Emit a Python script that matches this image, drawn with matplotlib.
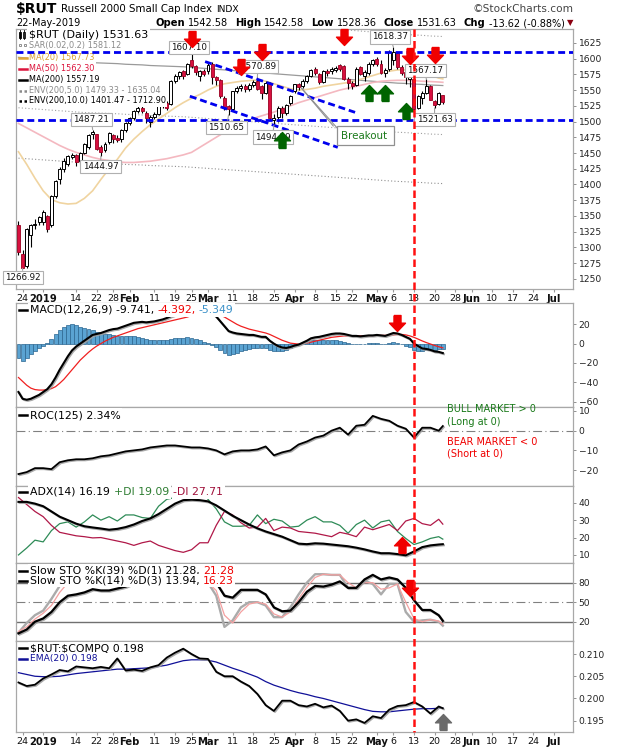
import numpy as np
import pandas as pd
import matplotlib
matplotlib.use("Agg")
from matplotlib import pyplot as plt
from matplotlib.lines import Line2D
from matplotlib.patches import Rectangle
from matplotlib.path import Path
from matplotlib.transforms import Affine2D
from matplotlib.ticker import FormatStrFormatter
import matplotlib.patheffects as pe

W, H = 620, 750

# trading calendar (x axis runs on trading days)
holidays = ["2018-12-25", "2019-01-01", "2019-01-21", "2019-02-18",
            "2019-04-19", "2019-05-27", "2019-07-04"]
cal = pd.bdate_range("2018-12-21", "2019-07-10")
cal = cal[~cal.isin(pd.to_datetime(holidays))]
day_index = {d.strftime("%Y-%m-%d"): k for k, d in enumerate(cal)}

def pos(day, shift=0.0):
    return day_index[day] + shift

# ---- daily OHLC, 21-Dec-2018 .. 22-May-2019 ----
opens = [1335, 1290, 1270, 1320, 1336, 1340, 1340, 1350, 1335, 1381, 1408, 1425, 1433, 1444,
         1447, 1437, 1450, 1460, 1480, 1480, 1459, 1455, 1468, 1478, 1474, 1472, 1487, 1498,
         1505, 1517, 1522, 1514, 1500, 1508, 1512, 1526, 1530, 1528, 1565, 1573, 1580, 1575,
         1598, 1588, 1572, 1580, 1580, 1592, 1570, 1566, 1538, 1524, 1520, 1548, 1553, 1557,
         1552, 1558, 1564, 1556, 1546, 1561, 1503, 1508, 1522, 1514, 1530, 1548, 1559, 1557,
         1565, 1572, 1583, 1575, 1563, 1581, 1580, 1582, 1590, 1588, 1568, 1562, 1558, 1586,
         1572, 1577, 1592, 1600, 1592, 1577, 1583, 1598, 1609, 1587, 1578, 1567, 1567, 1522,
         1538, 1545, 1556, 1532, 1528, 1542.58]
highs = [1342, 1296, 1331, 1337, 1345, 1350, 1360, 1352, 1383, 1407, 1428, 1442, 1447, 1450,
         1448, 1452, 1466, 1480, 1487.21, 1481, 1462, 1467, 1484, 1480, 1478, 1488, 1500, 1508,
         1518, 1524, 1526, 1516, 1510, 1515, 1527, 1533, 1532, 1566, 1575, 1580, 1582, 1593,
         1607.10, 1590, 1582, 1584, 1593, 1595, 1573, 1567, 1540, 1526, 1549, 1556, 1560, 1559,
         1561, 1566, 1570.89, 1558, 1564, 1563, 1512, 1524, 1525, 1528, 1542, 1560, 1561, 1567,
         1574, 1584, 1586, 1577, 1582, 1584, 1587, 1588, 1592, 1590, 1570, 1564, 1586, 1588,
         1582, 1594, 1599, 1603, 1597, 1585, 1613, 1618.37, 1611, 1590, 1580, 1575, 1568, 1542,
         1548, 1567.17, 1558, 1534, 1547, 1542.58]
lows = [1288, 1266.92, 1268, 1300, 1330, 1335, 1335, 1325, 1333, 1378, 1400, 1420, 1430, 1440,
        1430, 1433, 1448, 1456, 1472, 1455, 1444.97, 1452, 1465, 1466, 1468, 1468, 1484, 1494,
        1503, 1514, 1514, 1498, 1492, 1504, 1510, 1522, 1518, 1526, 1562, 1568, 1568, 1574,
        1585, 1574, 1565, 1572, 1575, 1560, 1558, 1538, 1518, 1510.65, 1518, 1545, 1549, 1547,
        1548, 1555, 1550, 1536, 1543, 1503, 1494.29, 1500, 1505, 1510, 1527, 1545, 1550, 1554,
        1562, 1570, 1574, 1560, 1561, 1573, 1576, 1578, 1580, 1566, 1552, 1552, 1556, 1574,
        1565, 1574, 1589, 1588, 1575, 1570, 1581, 1590, 1584, 1574, 1560, 1555, 1518, 1520,
        1528, 1543, 1534, 1521.63, 1527, 1528.36]
closes = [1292, 1268, 1329, 1335, 1338, 1348, 1356, 1330, 1381, 1405, 1425, 1438, 1446, 1447,
          1435, 1450, 1464, 1478, 1484, 1457, 1452, 1465, 1482, 1473, 1470, 1486, 1498, 1505,
          1517, 1522, 1517, 1505, 1508, 1512, 1526, 1530, 1522, 1565, 1573, 1578, 1572, 1592,
          1588, 1578, 1580, 1576, 1590, 1570, 1566, 1540, 1523, 1520, 1548, 1553, 1557, 1551,
          1558, 1563, 1552, 1546, 1562, 1505, 1506, 1521, 1513, 1527, 1540, 1559, 1555, 1565,
          1572, 1582, 1577, 1563, 1580, 1577, 1584, 1585, 1583, 1568, 1562, 1557, 1584, 1575,
          1578, 1592, 1597, 1592, 1577, 1582, 1610, 1611, 1587, 1577, 1570, 1572, 1520, 1540,
          1546, 1557, 1535, 1526, 1545, 1531.63]

# ---- MACD(12,26,9), daily ----
macd_line = [-50, -57, -58, -57, -55, -53, -50, -47, -42, -35,
             -27, -20, -13, -7, -3, 0, 3, 6, 9, 10,
             11, 12.5, 14, 15, 15.5, 17, 18.5, 20, 21.5, 22,
             22.5, 22, 22.5, 23, 24, 25, 26.5, 28.5, 30, 31.5,
             32.5, 34, 35, 35, 34.5, 33.5, 33, 31, 28, 23,
             18, 13, 11.5, 10.5, 10, 9.5, 9, 9, 8, 7,
             7, 3, 0, -2.5, -4, -4.5, -3.5, -2, -1, 1,
             3, 5.5, 6.5, 7, 8, 9, 10, 10.5, 10.5, 10,
             9, 8, 8, 7.5, 8, 8.5, 8.5, 9, 8.5, 8,
             9.5, 11, 10.5, 9, 7, 5, 0, -2.5, -5, -5.5,
             -6.5, -8, -8.5, -9.741]
macd_signal = [-35, -39, -43, -46, -47.5, -48, -48, -47.5, -46.5, -44.5,
               -41, -37, -32, -27, -22, -17, -13, -9, -5.5, -2.5,
               0, 2.5, 4.5, 6.5, 8, 9.5, 11, 12.5, 14, 15.5,
               16.5, 17.5, 18.5, 19.5, 20.5, 21.5, 22.5, 23.5, 24.5, 25.5,
               26.5, 27.5, 29, 30, 31, 31.5, 32, 32, 31, 29.5,
               27.5, 25, 22.5, 20, 18, 16.5, 15, 14, 13, 12,
               11, 9.5, 7.5, 5.5, 3.5, 2, 0.5, 0, -0.5, 0,
               0.5, 1.5, 2.5, 3.5, 4.5, 5.5, 6.5, 7, 7.5, 8,
               8, 8, 8, 8, 8, 8, 8, 8.5, 8.5, 8.5,
               8.5, 9, 9.5, 9.5, 9, 8, 6.5, 4.7, 2.8, 1.1,
               -0.4, -1.9, -3.2, -4.392]

# ---- indicator readings every second trading day (+ last day) ----
ma20 = [1452, 1432, 1410, 1390, 1376, 1371, 1369, 1370, 1378, 1390, 1408, 1425, 1440, 1458,
        1472, 1484, 1495, 1504, 1513, 1522, 1530, 1537, 1543, 1550, 1556, 1560, 1562, 1564,
        1565, 1566, 1564, 1560, 1556, 1552, 1550, 1551, 1553, 1556, 1558, 1560, 1562, 1565,
        1569, 1573, 1577, 1580, 1582, 1582, 1581, 1578, 1574, 1569, 1567.73]
ma50 = [1497, 1490, 1483, 1476, 1469, 1462, 1456, 1451, 1447, 1443, 1440, 1438, 1436, 1435,
        1435, 1436, 1437, 1439, 1441, 1444, 1447, 1451, 1459, 1467, 1475, 1483, 1490, 1497,
        1502, 1507, 1511, 1515, 1520, 1525, 1530, 1534, 1538, 1542, 1546, 1550, 1553, 1556,
        1559, 1562, 1564, 1565, 1565.5, 1565.5, 1565, 1564, 1563.5, 1562.8, 1562.30]
ma200 = [1602, 1601, 1600, 1599, 1598, 1597, 1596, 1595, 1594, 1593.5, 1593, 1592.5, 1592,
         1591, 1590.5, 1590, 1589, 1588.5, 1588, 1587.5, 1587, 1586, 1585, 1584, 1583, 1582,
         1581, 1580, 1579, 1578, 1577, 1576, 1575, 1574, 1573, 1572, 1571, 1570, 1569, 1568,
         1567, 1566, 1565, 1564, 1563, 1562, 1561, 1560.5, 1559.5, 1559, 1558, 1557.5, 1557.19]
roc125 = [-22, -21, -19, -19, -19.5, -16, -15, -14.5, -14.5, -14, -13, -12.5, -11.5, -10.5,
          -10, -9.5, -8.5, -8, -7.5, -7.5, -8, -8.5, -8.5, -9, -10, -12, -10.5, -10, -10,
          -9.5, -8, -12.5, -11, -10, -7, -5.5, -3.5, -2.5, 0, 1.5, -2, 2.5, 3, 7.5, 6, 5,
          2.5, 1, -3.5, 1.5, 1.5, 0, 2.34]
adx = [40.5, 40.5, 39.5, 38, 35, 32, 30, 28, 26.5, 25.8, 25.2, 24.5, 25, 26, 27.5, 29.5,
       31, 33.5, 36.5, 39.5, 41.5, 41.8, 41.5, 40.8, 38.5, 35.5, 32.5, 30, 27.5, 25.3, 23.5,
       22, 20.5, 18.5, 16.5, 16.2, 16.7, 16.5, 16, 15.5, 15, 14.2, 13.2, 12, 11, 11, 10.5,
       9.8, 12, 14.5, 15.5, 16, 16.19]
plus_di = [10, 14, 18.5, 17.5, 24, 28, 29, 26, 29, 33, 30, 32, 29.5, 33, 33, 31.5, 31, 38,
           42, 43, 46, 47, 46, 42, 36.5, 29, 26.5, 26.5, 27, 33, 28, 30.5, 29.5, 26, 26.5,
           30, 32, 29, 29, 27, 22.5, 27.5, 30, 25.5, 29, 30, 23.5, 19.5, 16, 17.5, 19.5,
           20.5, 19.09]
minus_di = [43, 39, 35, 32, 27, 23, 22, 21, 20.5, 19.8, 20, 19, 18, 17, 15.5, 17, 18, 15.5,
            14, 12.5, 11.5, 13, 17, 17, 27, 35, 33, 28.5, 25.5, 26, 31, 24, 26, 25.5, 23.5,
            23, 22.5, 21.5, 20.5, 23, 22, 20.5, 26, 24.5, 26, 27.5, 24, 29.5, 31, 28, 27,
            30.5, 27.71]
sto_k39 = [2, 8, 20, 25, 35, 50, 60, 62, 65, 70, 68, 68, 71, 74, 80, 84, 88, 90, 92, 94, 95,
           94, 91, 88, 80, 60, 57, 69, 69, 69, 62, 42, 36, 37, 50, 66, 75, 74, 77, 82, 72,
           72, 85, 92, 85, 88, 85, 72, 53, 38, 38, 30, 21.28]
sto_k14 = [3, 18, 30, 37, 55, 75, 85, 83, 88, 92, 85, 88, 90, 92, 93, 88, 85, 92, 95, 96, 95,
           90, 84, 80, 60, 12, 22, 42, 50, 50, 45, 27, 27, 42, 62, 80, 93, 93, 92, 92, 72,
           72, 83, 78, 62, 78, 78, 35, 20, 22, 23, 20, 13.94]
sto_d3 = [5, 12, 24, 33, 45, 65, 80, 84, 86, 89, 88, 87, 89, 91, 92, 90, 87, 89, 93, 95, 95,
          92, 86, 80, 68, 30, 18, 35, 47, 50, 47, 32, 27, 35, 55, 73, 88, 93, 92, 92, 80,
          72, 80, 80, 70, 72, 78, 50, 25, 20, 23, 21, 16.23]
rut_compq = [0.2036, 0.2028, 0.2031, 0.2045, 0.2054, 0.2064, 0.2061, 0.2072, 0.2070, 0.2068,
             0.2071, 0.2068, 0.2090, 0.2063, 0.2065, 0.2062, 0.2070, 0.2075, 0.2092, 0.2103,
             0.2112, 0.2100, 0.2090, 0.2089, 0.2060, 0.2050, 0.2050, 0.2038, 0.2028, 0.2010,
             0.1985, 0.1972, 0.1995, 0.1995, 0.1985, 0.1982, 0.1988, 0.1980, 0.1984, 0.1972,
             0.1950, 0.1953, 0.1945, 0.1960, 0.1956, 0.1975, 0.1983, 0.1985, 0.1992, 0.1982,
             0.1966, 0.1982, 0.1978]
ratio_ema20 = [0.2058, 0.2054, 0.2050, 0.2049, 0.2049, 0.2050, 0.2053, 0.2056, 0.2058, 0.2060,
               0.2062, 0.2064, 0.2066, 0.2066, 0.2067, 0.2068, 0.2069, 0.2072, 0.2075, 0.2080,
               0.2085, 0.2087, 0.2087, 0.2086, 0.2082, 0.2075, 0.2068, 0.2062, 0.2055, 0.2048,
               0.2038, 0.2030, 0.2024, 0.2018, 0.2013, 0.2009, 0.2004, 0.2000, 0.1995, 0.1990,
               0.1985, 0.1980, 0.1975, 0.1971, 0.1970, 0.1970, 0.1972, 0.1974, 0.1976, 0.1977,
               0.1977, 0.1978, 0.1978]

# x axis labels
tick_days = ["2018-12-24", "2019-01-02", "2019-01-14", "2019-01-22", "2019-01-28", "2019-02-01",
             "2019-02-11", "2019-02-19", "2019-02-25", "2019-03-01", "2019-03-11", "2019-03-18",
             "2019-03-25", "2019-04-01", "2019-04-08", "2019-04-15", "2019-04-22", "2019-04-30",
             "2019-05-06", "2019-05-13", "2019-05-20", "2019-05-28", "2019-06-03", "2019-06-10",
             "2019-06-17", "2019-06-24", "2019-07-01"]
tick_text = ["24", "2019", "14", "22", "28", "Feb", "11", "19", "25", "Mar", "11", "18", "25",
             "Apr", "8", "15", "22", "May", "6", "13", "20", "28", "Jun", "10", "17", "24", "Jul"]

# annotations drawn on the chart
res_lines = [1611, 1503]
channel_upper = [("2019-02-28", 0.3, 1595.2), ("2019-04-23", -0.3, 1514.6)]
channel_lower = [("2019-02-22", 0.6, 1540.2), ("2019-04-16", -0.5, 1459.0)]
red_down = [("2019-02-25", 1631), ("2019-03-13", 1587), ("2019-03-20", 1610),
            ("2019-04-17", 1634), ("2019-05-10", 1604), ("2019-05-20", 1605)]
green_up = [("2019-03-27", 1471), ("2019-04-26", 1545.5), ("2019-05-02", 1545.5), ("2019-05-09", 1516)]
price_notes = [("1266.92", "2018-12-24", 1266.92, 0.0, 1252.4),
               ("1487.21", "2019-01-18", 1487.21, -0.3, 1503.6),
               ("1444.97", "2019-01-23", 1444.97, -0.1, 1428.3),
               ("1607.10", "2019-02-25", 1607.10, -0.6, 1618.0),
               ("1570.89", "2019-03-19", 1570.89, 0.1, 1587.3),
               ("1510.65", "2019-03-08", 1510.65, -0.5, 1491.0),
               ("1494.29", "2019-03-25", 1494.29, -0.3, 1475.4),
               ("1618.37", "2019-05-06", 1618.37, -0.8, 1634.4),
               ("1567.17", "2019-05-16", 1567.17, -0.2, 1580.9),
               ("1521.63", "2019-05-20", 1521.63, 0.0, 1502.9)]
signal_day = "2019-05-13"

# ------------------------------------------------------------------
x = np.arange(len(closes))
xs = np.array(list(range(0, len(closes), 2)) + [len(closes) - 1])
o, hi, lo, c = map(np.array, (opens, highs, lows, closes))
hist = np.array(macd_line) - np.array(macd_signal)

fig = plt.figure(figsize=(W / 100, H / 100), dpi=100)
PX = Affine2D().scale(1, -1).translate(0, H)   # pixel coords, origin top-left

def panel(top, bottom):
    return fig.add_axes([16 / W, 1 - bottom / H, 557 / W, (bottom - top) / H])

ax_p = panel(29, 289)
ax_m = panel(303, 407)
ax_r = panel(407, 485.7)
ax_a = panel(485.7, 563.3)
ax_s = panel(563.3, 641)
ax_c = panel(641, 732.3)

def style(ax, ylim, yticks):
    ax.set_xlim(-0.6, 134.6)
    ax.set_ylim(*ylim)
    ax.yaxis.tick_right()
    ax.set_yticks(yticks)
    for s in ax.spines.values():
        s.set_color("#a8a8a8")
        s.set_linewidth(0.9)
    ax.tick_params(axis="y", length=2.5, width=0.7, color="#909090", labelsize=6.6,
                   pad=1.5, labelcolor="#222222")
    ax.tick_params(axis="x", length=0, labelbottom=False)

style(ax_p, (1234, 1647), np.arange(1250, 1626, 25))
style(ax_m, (-65.5, 42), [20, 0, -20, -40, -60])
style(ax_r, (-27.9, 12), [10, 0, -10, -20])
style(ax_a, (5.2, 49.8), [40, 30, 20, 10])
style(ax_s, (-9.7, 109.8), [80, 50, 20])
style(ax_c, (0.19239, 0.21293), [0.210, 0.205, 0.200, 0.195])
ax_c.yaxis.set_major_formatter(FormatStrFormatter("%.3f"))

for ax in (ax_p, ax_c):
    ax.set_xticks([pos(d) for d in tick_days])
    ax.set_xticklabels(tick_text)
    ax.tick_params(axis="x", labelbottom=True, length=2, color="#999999", labelsize=6.8,
                   pad=1.5, labelcolor="#111111")
    for lab in ax.get_xticklabels():
        if not lab.get_text().isdigit() or lab.get_text() == "2019":
            lab.set_fontweight("bold")
            lab.set_fontsize(7.2)

shadow = [pe.SimpleLineShadow(offset=(0.8, -0.8), shadow_color="#a0a0a0", alpha=0.9), pe.Normal()]

# ---- price panel ----
ax_p.plot(xs, ma200, color="#9a9a9a", lw=0.9, zorder=1)
ax_p.plot(xs, np.array(ma200) * 0.95, color="#a0a0a0", lw=0.8, ls=(0, (1, 2)), zorder=1)
ax_p.plot(xs, np.array(ma200) * 1.05, color="#a0a0a0", lw=0.8, ls=(0, (1, 2)), zorder=1)
ax_p.plot(xs, np.array(ma200) * 0.90, color="#909090", lw=0.8, ls=(0, (1, 2)), zorder=1)
ax_p.plot(xs, ma20, color="#f0d4a0", lw=1.2, zorder=1)
ax_p.plot(xs, ma50, color="#f4b8c0", lw=1.2, zorder=1)

up = c >= o
ax_p.vlines(x, lo, hi, color="black", lw=0.8, zorder=2)
bottom = np.minimum(o, c)
height = np.maximum(np.abs(c - o), 0.8)
ax_p.bar(x[up], height[up], bottom=bottom[up], width=0.72, color="white",
         edgecolor="black", lw=0.7, zorder=3)
ax_p.bar(x[~up], height[~up], bottom=bottom[~up], width=0.72, color="#d81040",
         edgecolor="#9a0020", lw=0.6, zorder=3)

for lvl in res_lines:
    ax_p.axhline(lvl, color="#0000ee", lw=2, ls=(0, (2.5, 1.4)), zorder=7)
for seg in (channel_upper, channel_lower):
    ax_p.plot([pos(d, s) for d, s, _ in seg], [v for _, _, v in seg], color="#0000ee",
              lw=2, ls=(0, (2.5, 1.4)), zorder=7)

# breakout callout
ax_p.plot([pos("2019-04-01", 1.7), pos("2019-04-15", -0.6)], [1553, 1493], color="#909090", lw=0.8, zorder=7)
ax_p.plot([pos("2019-04-01", 1.7), pos("2019-04-16", -0.4)], [1553, 1488], color="#909090", lw=0.8, zorder=7)
ax_p.add_patch(Rectangle((pos("2019-04-15", 0.3), 1462.8), 13.8, 29.9, facecolor="white",
                         edgecolor="#909090", lw=0.9, zorder=8))
ax_p.text(pos("2019-04-16", 0.2), 1477.5, "Breakout", color="#1a7a1a", fontsize=7.4,
          va="center", ha="left", zorder=9)

for txt, d, val, dx, yb in price_notes:
    ax_p.annotate(txt, xy=(pos(d), val), xytext=(pos(d, dx), yb), fontsize=6.3,
                  ha="center", va="center", color="#111111", zorder=8, annotation_clip=False,
                  bbox=dict(boxstyle="square,pad=0.25", fc="white", ec="#b0b0b0", lw=0.8),
                  arrowprops=dict(arrowstyle="-", color="#a0a0a0", lw=0.8, shrinkA=0, shrinkB=0))

arrow_dn = Path([(-0.22, 0.5), (0.22, 0.5), (0.22, 0.02), (0.5, 0.02), (0, -0.5),
                 (-0.5, 0.02), (-0.22, 0.02), (-0.22, 0.5)])
arrow_up = Path([(xx, -yy) for xx, yy in arrow_dn.vertices])

def mark(ax, items, path, color):
    ax.plot([pos(d) for d, _ in items], [v for _, v in items], ls="none", marker=path,
            ms=11.5, color=color, mec=color, zorder=10, clip_on=False)

mark(ax_p, red_down, arrow_dn, "#f00000")
mark(ax_p, green_up, arrow_up, "#006400")

# ---- MACD ----
ax_m.bar(x, hist, width=0.95, color="#5aa3d2", edgecolor="#2a6590", lw=0.5, zorder=1)
ax_m.plot(x, macd_signal, color="#f02020", lw=0.9, zorder=2)
ax_m.plot(x, macd_line, color="black", lw=1.5, zorder=3, path_effects=shadow)
mark(ax_m, [("2019-05-07", 21)], arrow_dn, "#f00000")

# ---- ROC ----
ax_r.axhline(0, color="#808080", lw=0.8, ls=(0, (8, 3, 1, 3)), zorder=1)
ax_r.plot(xs, roc125, color="black", lw=1.3, zorder=3, path_effects=shadow)

# ---- ADX ----
ax_a.plot(xs, plus_di, color="#2e8b57", lw=0.9, zorder=2)
ax_a.plot(xs, minus_di, color="#b01848", lw=0.9, zorder=2)
ax_a.plot(xs, adx, color="black", lw=1.5, zorder=3, path_effects=shadow)
mark(ax_a, [("2019-05-08", 15.7)], arrow_up, "#f00000")

# ---- Slow stochastics ----
ax_s.axhline(80, color="#707070", lw=1.0, zorder=1)
ax_s.axhline(20, color="#707070", lw=1.0, zorder=1)
ax_s.axhline(50, color="#808080", lw=0.8, ls=(0, (8, 3, 1, 3)), zorder=1)
ax_s.plot(xs, sto_k14, color="#ababab", lw=1.7, zorder=2)
ax_s.plot(xs, sto_d3, color="#f4a0a0", lw=0.9, zorder=2)
ax_s.plot(xs, sto_k39, color="black", lw=1.6, zorder=3, path_effects=shadow)
mark(ax_s, [("2019-05-10", 71.4)], arrow_dn, "#f00000")

# ---- $RUT:$COMPQ ----
ax_c.plot(xs, ratio_ema20, color="#101098", lw=0.9, zorder=2)
ax_c.plot(xs, rut_compq, color="black", lw=1.3, zorder=3, path_effects=shadow)
mark(ax_c, [("2019-05-22", 0.1948)], arrow_up, "#6a6a6a")

# vertical signal line through all panels
xd = ax_p.transData.transform((pos(signal_day), 1500))[0]
fig.add_artist(Line2D([xd, xd], [29, 732.3], transform=PX, color="#ff1010", lw=1.8,
                      ls=(0, (3, 1.6)), zorder=20))

# ---- texts ----
renderer = fig.canvas.get_renderer()

def row(ax, x0, y, parts, align="left", bg=True, z=6):
    arts, cx, gap = [], x0, 0
    for s, color, size, weight, gap in parts:
        t = ax.text(cx, y, s, transform=PX, color=color, fontsize=size, fontweight=weight,
                    va="center", ha="left", zorder=z, clip_on=False)
        if bg:
            t.set_bbox(dict(boxstyle="square,pad=0.15", fc="white", ec="none"))
        cx += t.get_window_extent(renderer).width + gap
        arts.append(t)
    if align == "right":
        shift = x0 - (cx - gap)
        for t in arts:
            t.set_x(t.get_position()[0] + shift)

def dash_icon(ax, y, color, ls="-", lw=1.8):
    ax.add_line(Line2D([19, 27], [y, y], transform=PX, color=color, lw=lw, ls=ls,
                       zorder=7, clip_on=False))

# header
row(ax_p, 16, 9, [("\\$RUT", "black", 10, "bold", 4),
                  ("Russell 2000 Small Cap Index", "black", 7.4, "normal", 4),
                  ("INDX", "black", 6.6, "normal", 0)], bg=False)
row(ax_p, 573, 9, [("\u00a9StockCharts.com", "#444444", 7.6, "normal", 0)], align="right", bg=False)
row(ax_p, 16, 23, [("22-May-2019", "black", 7, "normal", 0)], bg=False)
row(ax_p, 573, 23, [("Open", "black", 7.2, "bold", 3), ("1542.58", "black", 7, "normal", 7),
                    ("High", "black", 7.2, "bold", 3), ("1542.58", "black", 7, "normal", 7),
                    ("Low", "black", 7.2, "bold", 3), ("1528.36", "black", 7, "normal", 7),
                    ("Close", "black", 7.2, "bold", 3), ("1531.63", "black", 7, "normal", 7),
                    ("Chg", "black", 7.2, "bold", 3), ("-13.62 (-0.88%)", "black", 7, "normal", 2),
                    ("\u25bc", "#8b0010", 6, "normal", 0)], align="right", bg=False)

# price legend
for dxp in (18.5, 22.5):
    ax_p.add_patch(Rectangle((dxp, 31.5), 2.4, 6, transform=PX, fc="black" if dxp < 20 else "white",
                             ec="black", lw=0.6, zorder=7, clip_on=False))
    ax_p.add_line(Line2D([dxp + 1.2, dxp + 1.2], [30, 39], transform=PX, color="black", lw=0.6,
                         zorder=7, clip_on=False))
row(ax_p, 29, 34.5, [("\\$RUT (Daily) 1531.63", "black", 8, "normal", 0)])
ax_p.plot([20, 24.5], [45.3, 45.3], ls="none", marker="s", ms=2, mfc="white", mec="#909090",
          mew=0.7, transform=PX, zorder=7, clip_on=False)
row(ax_p, 29, 45.3, [("SAR(0.02,0.2) 1581.12", "#8a8a8a", 5.9, "normal", 0)])
dash_icon(ax_p, 57.5, "#e0a838")
row(ax_p, 29, 57.5, [("MA(20) 1567.73", "#d9a030", 5.9, "normal", 0)])
dash_icon(ax_p, 68.7, "#dc143c")
row(ax_p, 29, 68.7, [("MA(50) 1562.30", "#dc143c", 5.9, "normal", 0)])
dash_icon(ax_p, 79.7, "black")
row(ax_p, 29, 79.7, [("MA(200) 1557.19", "black", 5.9, "normal", 0)])
dash_icon(ax_p, 90.5, "#8a8a8a", ls=(0, (1, 1)))
row(ax_p, 29, 90.5, [("ENV(200,5.0) 1479.33 - 1635.04", "#8a8a8a", 5.9, "normal", 0)])
dash_icon(ax_p, 100.8, "black", ls=(0, (1, 1)))
row(ax_p, 29, 100.8, [("ENV(200,10.0) 1401.47 - 1712.90", "black", 5.9, "normal", 0)])

# indicator legends
dash_icon(ax_m, 310, "black")
row(ax_m, 30, 310, [("MACD(12,26,9) -9.741,", "black", 7.8, "normal", 3),
                    ("-4.392,", "#f00000", 7.8, "normal", 3), ("-5.349", "#3a90c8", 7.8, "normal", 0)])
dash_icon(ax_r, 415, "black")
row(ax_r, 30, 415, [("ROC(125) 2.34%", "black", 7.8, "normal", 0)])
dash_icon(ax_a, 492, "black")
row(ax_a, 30, 492, [("ADX(14) 16.19", "black", 7.8, "normal", 4),
                    ("+DI 19.09", "#2e7d32", 7.8, "normal", 4), ("-DI 27.71", "#a0103a", 7.8, "normal", 0)])
dash_icon(ax_s, 570.7, "black")
row(ax_s, 30, 570.7, [("Slow STO %K(39) %D(1) 21.28,", "black", 7.8, "normal", 3),
                      ("21.28", "#f00000", 7.8, "normal", 0)])
dash_icon(ax_s, 580.7, "black")
row(ax_s, 30, 580.7, [("Slow STO %K(14) %D(3) 13.94,", "black", 7.8, "normal", 3),
                      ("16.23", "#f00000", 7.8, "normal", 0)])
dash_icon(ax_c, 648.3, "black")
row(ax_c, 30, 648.3, [("\\$RUT:\\$COMPQ 0.198", "black", 7.8, "normal", 0)])
dash_icon(ax_c, 659, "#101098")
row(ax_c, 30, 659, [("EMA(20) 0.198", "#101098", 6.6, "normal", 0)])

# market regime notes next to ROC
for ytxt, txt, col in [(409, "BULL MARKET > 0", "#1a7a1a"), (422, "(Long at 0)", "#1a7a1a"),
                       (441.7, "BEAR MARKET < 0", "#f00000"), (454, "(Short at 0)", "#f00000")]:
    ax_r.text(447, ytxt, txt, transform=PX, color=col, fontsize=7, va="center", ha="left",
              zorder=6, clip_on=False)

fig.savefig("out.png", dpi=100)
